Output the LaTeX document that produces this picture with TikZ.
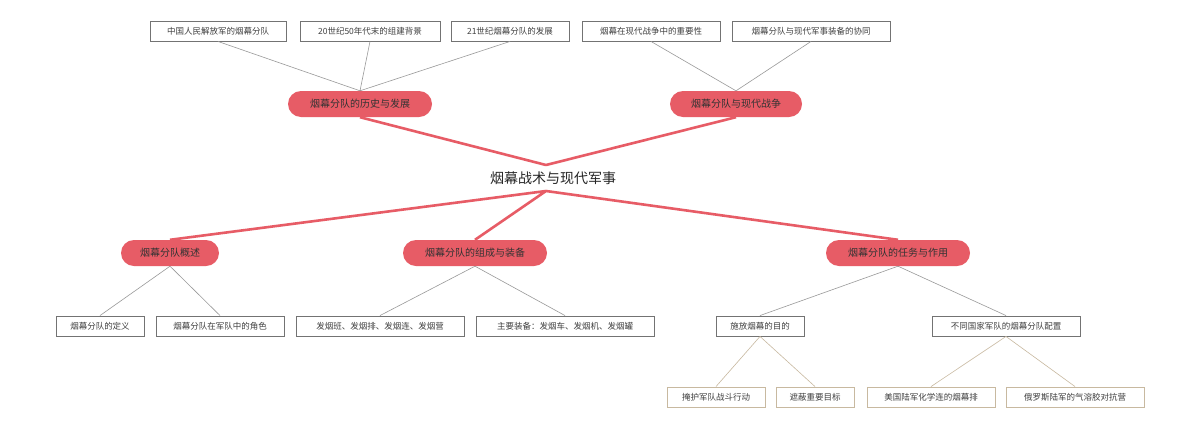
\documentclass[tikz,border=0pt]{standalone}
\usepackage{fontspec}
\setmainfont{Noto Sans CJK SC}
\definecolor{pill}{RGB}{231,92,102}
\definecolor{tan}{RGB}{200,185,160}
\begin{document}
\begin{tikzpicture}[x=1pt,y=-1pt,
  pillbox/.style={fill=pill,rounded corners=13pt,minimum height=26pt,inner sep=0pt,font=\fontsize{10}{12}\selectfont,text=black!80},
  leaf/.style={draw=black!55,line width=0.9pt,fill=white,minimum height=20pt,inner sep=0pt,font=\fontsize{8.5}{10}\selectfont,text=black!75},
  leaft/.style={leaf,draw=tan},
  thick1/.style={draw=pill,line width=2.6pt},
  thin1/.style={draw=black!40,line width=0.6pt},
  thin2/.style={draw=tan,line width=0.6pt}]
\useasboundingbox[fill=white] (0,0) rectangle (1200,429);
\node[font=\fontsize{14}{16}\selectfont,text=black!85] (root) at (553,178) {烟幕战术与现代军事};
\coordinate (rt) at (546,165);
\coordinate (rb) at (546,191);
\node[pillbox,minimum width=144pt] (h) at (360,104) {烟幕分队的历史与发展};
\node[pillbox,minimum width=132pt] (m) at (736,104) {烟幕分队与现代战争};
\node[pillbox,minimum width=98pt] (o) at (170,253) {烟幕分队概述};
\node[pillbox,minimum width=144pt] (c) at (475,253) {烟幕分队的组成与装备};
\node[pillbox,minimum width=144pt] (t) at (898,253) {烟幕分队的任务与作用};
\draw[thick1] (rt) -- (h.south) (rt) -- (m.south);
\draw[thick1] (rb) -- (o.north) (rb) -- (c.north) (rb) -- (t.north);
\node[leaf,minimum width=136pt] (h1) at (218,31) {中国人民解放军的烟幕分队};
\node[leaf,minimum width=140pt] (h2) at (370,31) {20世纪50年代末的组建背景};
\node[leaf,minimum width=118pt] (h3) at (510,31) {21世纪烟幕分队的发展};
\node[leaf,minimum width=138pt] (m1) at (651,31) {烟幕在现代战争中的重要性};
\node[leaf,minimum width=158pt] (m2) at (811,31) {烟幕分队与现代军事装备的协同};
\draw[thin1] (h1.south) -- (h.north) (h2.south) -- (h.north) (h3.south) -- (h.north);
\draw[thin1] (m1.south) -- (m.north) (m2.south) -- (m.north);
\node[leaf,minimum width=88pt] (o1) at (100,326) {烟幕分队的定义};
\node[leaf,minimum width=128pt] (o2) at (220,326) {烟幕分队在军队中的角色};
\node[leaf,minimum width=168pt] (c1) at (380,326) {发烟班、发烟排、发烟连、发烟营};
\node[leaf,minimum width=178pt] (c2) at (565,326) {主要装备：发烟车、发烟机、发烟罐};
\node[leaf,minimum width=88pt] (t1) at (760,326) {施放烟幕的目的};
\node[leaf,minimum width=148pt] (t2) at (1006,326) {不同国家军队的烟幕分队配置};
\draw[thin1] (o.south) -- (o1.north) (o.south) -- (o2.north);
\draw[thin1] (c.south) -- (c1.north) (c.south) -- (c2.north);
\draw[thin1] (t.south) -- (t1.north) (t.south) -- (t2.north);
\node[leaft,minimum width=98pt] (a1) at (716,397) {掩护军队战斗行动};
\node[leaft,minimum width=78pt] (a2) at (815,397) {遮蔽重要目标};
\node[leaft,minimum width=128pt] (b1) at (931,397) {美国陆军化学连的烟幕排};
\node[leaft,minimum width=138pt] (b2) at (1075,397) {俄罗斯陆军的气溶胶对抗营};
\draw[thin2] (t1.south) -- (a1.north) (t1.south) -- (a2.north);
\draw[thin2] (t2.south) -- (b1.north) (t2.south) -- (b2.north);
\end{tikzpicture}
\end{document}
